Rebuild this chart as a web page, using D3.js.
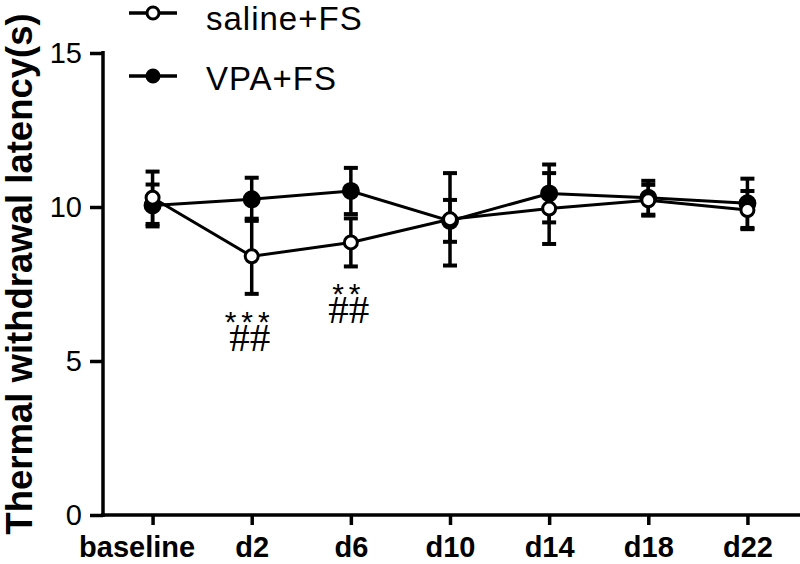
<!DOCTYPE html>
<html>
<head>
<meta charset="utf-8">
<script src="https://cdn.jsdelivr.net/npm/d3@7"></script>
<style>
  body { margin: 0; background: #fff; }
  svg { display: block; }
</style>
</head>
<body>
<div id="chart"></div>
<script>
(function() {
  const width = 800;
  const height = 564;

  // ===== data =====
  const categories = ["baseline", "d2", "d6", "d10", "d14", "d18", "d22"];
  const salineMean = [10.3, 8.4, 8.85, 9.6, 9.95, 10.22, 9.9];
  const salineSD   = [0.85, 1.22, 0.78, 1.5, 1.15, 0.5, 0.62];
  const vpaMean    = [10.05, 10.25, 10.52, 9.55, 10.44, 10.3, 10.12];
  const vpaSD      = [0.68, 0.7, 0.75, 0.68, 0.94, 0.55, 0.8];
  const yTicks = [0, 5, 10, 15];
  const marks = [
    { cat: "d2", stars: "***", hash: "##" },
    { cat: "d6", stars: "**", hash: "##" },
  ];
  const seriesNames = ["saline+FS", "VPA+FS"];

  const sans = "'Liberation Sans', Arial, sans-serif";

  const svg = d3.select("#chart").append("svg")
    .attr("width", width).attr("height", height);

  const x = d3.scalePoint().domain(categories).range([103, 797]).padding(0.5);
  const y = d3.scaleLinear().domain([0, 15]).range([515, 53]);

  // ===== axes =====
  const xAxis = svg.append("g")
    .attr("transform", "translate(0,515)")
    .call(d3.axisBottom(x).tickSize(10).tickSizeOuter(0));
  xAxis.select(".domain").attr("d", "M101,0H800");
  xAxis.selectAll("line, path").attr("stroke", "#000").attr("stroke-width", 3.5);
  xAxis.selectAll("text")
    .attr("fill", "#000")
    .attr("y", 42).attr("dy", 0)
    .attr("dx", d => (d === "baseline" ? -16 : 0))
    .style("font-family", sans)
    .style("font-size", "29px")
    .style("font-weight", "bold");

  const yAxis = svg.append("g")
    .attr("transform", "translate(103,0)")
    .call(d3.axisLeft(y).tickValues(yTicks).tickSize(13).tickPadding(8).tickSizeOuter(0));
  yAxis.select(".domain").attr("d", "M0,51V517");
  yAxis.selectAll("line, path").attr("stroke", "#000").attr("stroke-width", 3.5);
  yAxis.selectAll("text")
    .attr("fill", "#000")
    .style("font-family", sans)
    .style("font-size", "29px");

  svg.append("text")
    .attr("transform", "translate(32,274) rotate(-90)")
    .attr("text-anchor", "middle")
    .style("font-family", sans)
    .style("font-size", "36.5px")
    .style("font-weight", "bold")
    .text("Thermal withdrawal latency(s)");

  // ===== series =====
  const series = [
    { name: seriesNames[1], mean: vpaMean, sd: vpaSD, fill: "#000", r: 7.5 },
    { name: seriesNames[0], mean: salineMean, sd: salineSD, fill: "#fff", r: 6.5 },
  ];

  const line = d3.line().x((d, i) => x(categories[i])).y(d => y(d));

  series.forEach(s => {
    const g = svg.append("g");
    const rows = categories.map((c, i) => ({ c, m: s.mean[i], e: s.sd[i] }));

    g.append("path")
      .attr("d", line(s.mean))
      .attr("fill", "none")
      .attr("stroke", "#000")
      .attr("stroke-width", 3);

    g.selectAll("line.err")
      .data(rows)
      .join("line")
      .attr("class", "err")
      .attr("x1", d => x(d.c)).attr("x2", d => x(d.c))
      .attr("y1", d => y(d.m + d.e)).attr("y2", d => y(d.m - d.e))
      .attr("stroke", "#000").attr("stroke-width", 3.5);

    g.selectAll("line.capTop")
      .data(rows)
      .join("line")
      .attr("class", "capTop")
      .attr("x1", d => x(d.c) - 7).attr("x2", d => x(d.c) + 7)
      .attr("y1", d => y(d.m + d.e)).attr("y2", d => y(d.m + d.e))
      .attr("stroke", "#000").attr("stroke-width", 4);

    g.selectAll("line.capBot")
      .data(rows)
      .join("line")
      .attr("class", "capBot")
      .attr("x1", d => x(d.c) - 7).attr("x2", d => x(d.c) + 7)
      .attr("y1", d => y(d.m - d.e)).attr("y2", d => y(d.m - d.e))
      .attr("stroke", "#000").attr("stroke-width", 4);

    g.selectAll("circle")
      .data(rows)
      .join("circle")
      .attr("cx", d => x(d.c))
      .attr("cy", d => y(d.m))
      .attr("r", s.r)
      .attr("fill", s.fill)
      .attr("stroke", "#000")
      .attr("stroke-width", 3);
  });

  // ===== significance marks (below the saline lower error cap) =====
  const lowCap = c => {
    const i = categories.indexOf(c);
    return y(salineMean[i] - salineSD[i]);
  };
  const sig = svg.append("g");
  sig.selectAll("text.stars")
    .data(marks)
    .join("text")
    .attr("class", "stars")
    .attr("x", d => x(d.cat) - 2)
    .attr("y", d => lowCap(d.cat) + 38)
    .attr("text-anchor", "middle")
    .style("font-family", sans)
    .style("font-size", "30px")
    .style("letter-spacing", "5px")
    .text(d => d.stars);
  sig.selectAll("text.hash")
    .data(marks)
    .join("text")
    .attr("class", "hash")
    .attr("x", d => x(d.cat) - 2)
    .attr("y", d => lowCap(d.cat) + 57)
    .attr("text-anchor", "middle")
    .style("font-family", "'Liberation Serif', serif")
    .style("font-size", "41px")
    .text(d => d.hash);

  // ===== legend =====
  const legend = svg.append("g");
  const legendRows = [
    { name: seriesNames[0], fill: "#fff", y: 13 },
    { name: seriesNames[1], fill: "#000", y: 76 },
  ];
  legendRows.forEach(r => {
    legend.append("line")
      .attr("x1", 129).attr("x2", 177)
      .attr("y1", r.y).attr("y2", r.y)
      .attr("stroke", "#000").attr("stroke-width", 3.5);
    legend.append("circle")
      .attr("cx", 153).attr("cy", r.y).attr("r", 6)
      .attr("fill", r.fill)
      .attr("stroke", "#000").attr("stroke-width", 3);
    legend.append("text")
      .attr("x", 206).attr("y", Math.max(r.y + 14, 30))
      .style("font-family", sans)
      .style("font-size", "33px")
      .style("letter-spacing", "1px")
      .text(r.name);
  });
})();
</script>
</body>
</html>
